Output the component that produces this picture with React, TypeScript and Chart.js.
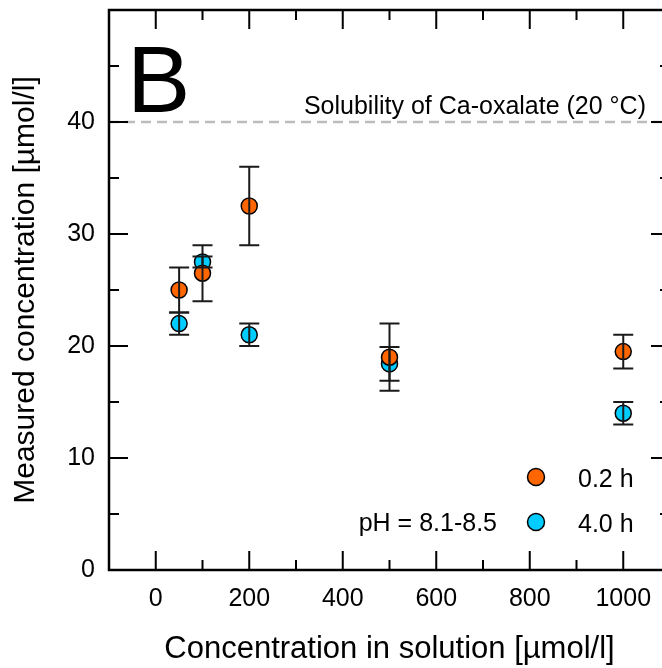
import React, { useEffect, useRef } from 'react';
import { Chart, registerables } from 'chart.js';

Chart.register(...registerables);

// ---- data ----
const X_VALUES = [50, 100, 200, 500, 1000];
const SERIES_02H = [25, 26.5, 32.5, 19, 19.5];
const ERR_02H = [2, 2.5, 3.5, 3, 1.5];
const SERIES_40H = [22, 27.5, 21, 18.4, 14];
const ERR_40H = [1, 0.5, 1, 1.5, 1];

const SERIES_LABELS = ['0.2 h', '4.0 h'];
const X_TICK_LABELS = [0, 200, 400, 600, 800, 1000];
const X_MINOR = [100, 300, 500, 700, 900];
const Y_TICK_LABELS = [0, 10, 20, 30, 40];
const Y_MAJOR = [10, 20, 30, 40];
const Y_MINOR = [5, 15, 25, 35, 45];
const SOLUBILITY = 40;

const PANEL_LETTER = 'B';
const SOLUBILITY_TEXT = 'Solubility of Ca-oxalate (20 °C)';
const PH_TEXT = 'pH = 8.1-8.5';
const X_TITLE = 'Concentration in solution [µmol/l]';
const Y_TITLE = 'Measured concentration [µmol/l]';

const FONT = "'Liberation Sans', Arial, Helvetica, sans-serif";
const ORANGE = '#ff6600';
const BLUE = '#00ccff';

const decor = {
  id: 'decor',
  beforeDatasetsDraw(chart: any) {
    const { ctx, chartArea: a, scales } = chart;
    const y = scales.y;
    ctx.save();
    // solubility line
    const yy = y.getPixelForValue(SOLUBILITY);
    ctx.strokeStyle = '#bdbdbd';
    ctx.lineWidth = 2.5;
    ctx.setLineDash([10, 6]);
    ctx.beginPath();
    ctx.moveTo(a.left, yy);
    ctx.lineTo(a.right, yy);
    ctx.stroke();
    ctx.setLineDash([]);
    // texts
    ctx.fillStyle = '#000';
    ctx.textBaseline = 'alphabetic';
    ctx.textAlign = 'left';
    ctx.font = `95px ${FONT}`;
    ctx.fillText(PANEL_LETTER, 127, 112);
    ctx.font = `25px ${FONT}`;
    ctx.textAlign = 'right';
    ctx.fillText(SOLUBILITY_TEXT, 646, 114);
    ctx.fillText(PH_TEXT, 497, 531);
    ctx.restore();
  },
  afterDatasetsDraw(chart: any) {
    const { ctx, chartArea: a, scales } = chart;
    const x = scales.x;
    const y = scales.y;
    ctx.save();
    // error bars
    ctx.strokeStyle = '#1a1a1a';
    ctx.lineWidth = 2;
    chart.data.datasets.forEach((ds: any) => {
      ds.data.forEach((p: any, j: number) => {
        const e = ds.errors[j];
        const px = x.getPixelForValue(p.x);
        const y1 = y.getPixelForValue(p.y - e);
        const y2 = y.getPixelForValue(p.y + e);
        ctx.beginPath();
        ctx.moveTo(px, y1);
        ctx.lineTo(px, y2);
        ctx.moveTo(px - 10, y1);
        ctx.lineTo(px + 10, y1);
        ctx.moveTo(px - 10, y2);
        ctx.lineTo(px + 10, y2);
        ctx.stroke();
      });
    });
    // ticks (inward, all four sides)
    ctx.strokeStyle = '#000';
    ctx.lineWidth = 2;
    ctx.beginPath();
    const xt = (vals: number[], len: number) => {
      vals.forEach((v) => {
        const px = x.getPixelForValue(v);
        ctx.moveTo(px, a.bottom);
        ctx.lineTo(px, a.bottom - len);
        ctx.moveTo(px, a.top);
        ctx.lineTo(px, a.top + len);
      });
    };
    const yt = (vals: number[], len: number) => {
      vals.forEach((v) => {
        const py = y.getPixelForValue(v);
        ctx.moveTo(a.left, py);
        ctx.lineTo(a.left + len, py);
        ctx.moveTo(a.right, py);
        ctx.lineTo(a.right - len, py);
      });
    };
    xt(X_TICK_LABELS, 19);
    xt(X_MINOR, 10);
    yt(Y_MAJOR, 19);
    yt(Y_MINOR, 10);
    ctx.stroke();
    // frame
    ctx.lineWidth = 2.5;
    ctx.strokeRect(a.left, a.top, a.right - a.left, a.bottom - a.top);
    // legend
    const rows = [477, 522];
    chart.data.datasets.forEach((ds: any, i: number) => {
      ctx.beginPath();
      ctx.arc(536, rows[i], 8.5, 0, Math.PI * 2);
      ctx.fillStyle = ds.backgroundColor;
      ctx.fill();
      ctx.lineWidth = 1.5;
      ctx.strokeStyle = '#000';
      ctx.stroke();
      ctx.fillStyle = '#000';
      ctx.font = `25px ${FONT}`;
      ctx.textAlign = 'left';
      ctx.textBaseline = 'alphabetic';
      ctx.fillText(ds.label, 578, rows[i] + 10);
    });
    ctx.restore();
  },
};

export default function App() {
  const ref = useRef<HTMLCanvasElement>(null);
  useEffect(() => {
    if (!ref.current) return;
    const chart = new Chart(ref.current, {
      type: 'scatter',
      data: {
        datasets: [
          {
            label: SERIES_LABELS[0],
            data: X_VALUES.map((v, i) => ({ x: v, y: SERIES_02H[i] })),
            errors: ERR_02H,
            backgroundColor: ORANGE,
            borderColor: '#000',
            borderWidth: 1.5,
            pointRadius: 8,
            pointHoverRadius: 8,
          } as any,
          {
            label: SERIES_LABELS[1],
            data: X_VALUES.map((v, i) => ({ x: v, y: SERIES_40H[i] })),
            errors: ERR_40H,
            backgroundColor: BLUE,
            borderColor: '#000',
            borderWidth: 1.5,
            pointRadius: 8,
            pointHoverRadius: 8,
          } as any,
        ],
      },
      options: {
        responsive: false,
        animation: false,
        layout: { padding: { left: 0, top: 10, right: 30, bottom: 0 } },
        plugins: { legend: { display: false }, tooltip: { enabled: false } },
        scales: {
          x: {
            type: 'linear',
            min: -100,
            max: 1100,
            grid: { display: false, drawTicks: false },
            border: { display: false },
            afterBuildTicks: (s: any) => {
              s.ticks = X_TICK_LABELS.map((v) => ({ value: v }));
            },
            afterFit: (s: any) => {
              s.height = 98;
              s.paddingLeft = 0;
              s.paddingRight = 0;
              s.paddingTop = 0;
              s.paddingBottom = 0;
            },
            ticks: {
              autoSkip: false,
              maxRotation: 0,
              padding: 14,
              color: '#000',
              font: { family: FONT, size: 25 },
              callback: (v: any) => String(v),
            },
            title: {
              display: true,
              text: X_TITLE,
              color: '#000',
              font: { family: FONT, size: 31 },
              padding: { top: 0, bottom: 0 },
            },
          },
          y: {
            type: 'linear',
            min: 0,
            max: 50,
            grid: { display: false, drawTicks: false },
            border: { display: false },
            afterBuildTicks: (s: any) => {
              s.ticks = Y_TICK_LABELS.map((v) => ({ value: v }));
            },
            afterFit: (s: any) => {
              s.width = 109;
              s.paddingLeft = 0;
              s.paddingRight = 0;
              s.paddingTop = 0;
              s.paddingBottom = 0;
            },
            ticks: {
              autoSkip: false,
              padding: 14,
              color: '#000',
              font: { family: FONT, size: 25 },
              callback: (v: any) => String(v),
            },
            title: {
              display: true,
              text: Y_TITLE,
              color: '#000',
              font: { family: FONT, size: 30 },
              padding: { top: 8, bottom: 0 },
            },
          },
        },
      },
      plugins: [decor],
    } as any);
    return () => chart.destroy();
  }, []);
  return (
    <div
      style={{
        position: 'fixed',
        left: 0,
        top: 0,
        width: 662,
        height: 668,
        overflow: 'hidden',
        background: '#fff',
      }}
    >
      <canvas ref={ref} width={700} height={668} style={{ display: 'block' }} />
    </div>
  );
}
